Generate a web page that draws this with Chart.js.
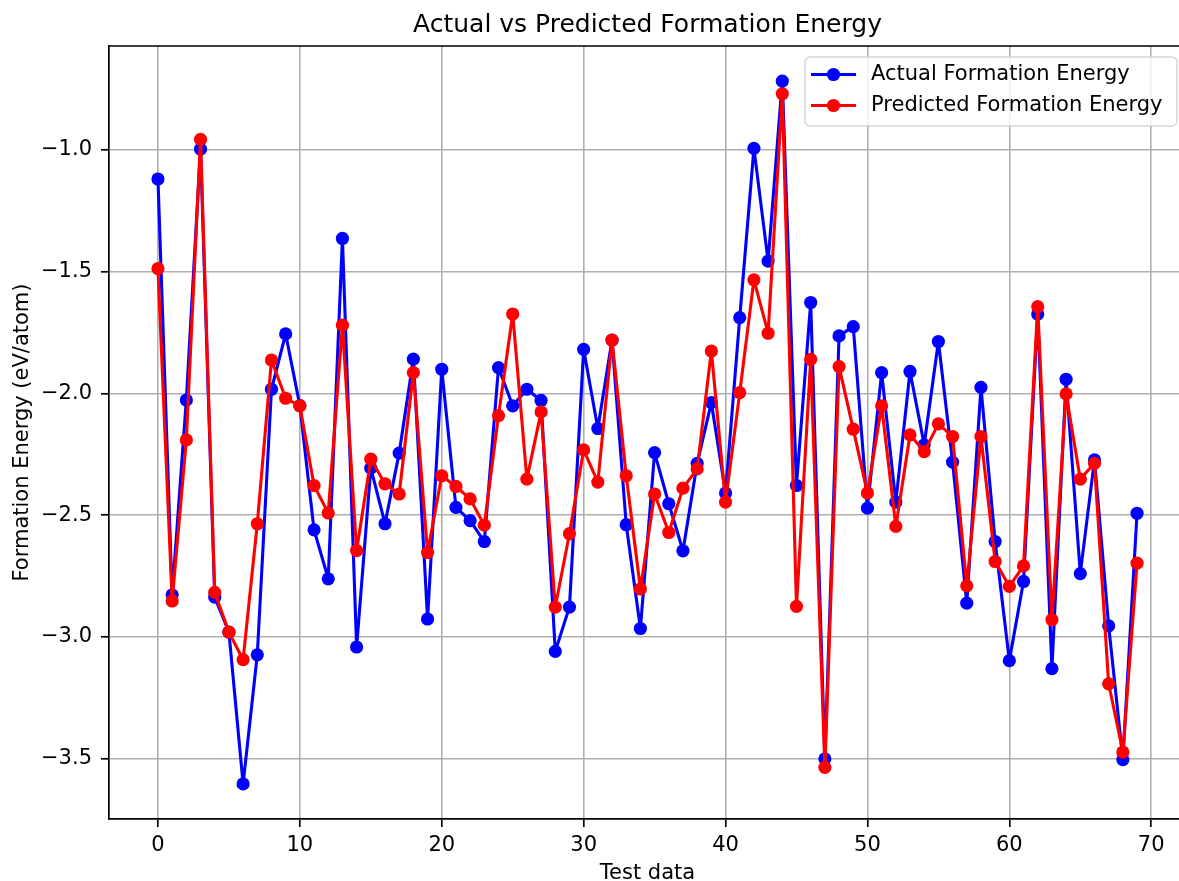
<!DOCTYPE html>
<html><head><meta charset="utf-8">
<script src="https://cdn.jsdelivr.net/npm/chart.js@4.4.1/dist/chart.umd.min.js"></script>
<style>
html,body{margin:0;padding:0;overflow:hidden;background:#fff;width:1179px;height:881px}
#wrap{position:absolute;left:0;top:0;width:1200px;height:881px}
</style>
</head><body><div id="wrap"><canvas id="c" width="1200" height="881"></canvas></div>
<script>
const testIndex = [0,1,2,3,4,5,6,7,8,9,10,11,12,13,14,15,16,17,18,19,20,21,22,23,24,25,26,27,28,29,30,31,32,33,34,35,36,37,38,39,40,41,42,43,44,45,46,47,48,49,50,51,52,53,54,55,56,57,58,59,60,61,62,63,64,65,66,67,68,69];
const actualEnergy = [-1.12,-2.827,-2.027,-0.997,-2.836,-2.98,-3.603,-3.073,-1.983,-1.756,
 -2.05,-2.56,-2.761,-1.364,-3.041,-2.307,-2.535,-2.245,-1.859,-2.926,
 -1.901,-2.468,-2.522,-2.608,-1.894,-2.051,-1.983,-2.029,-3.059,-2.877,
 -1.819,-2.144,-1.781,-2.539,-2.965,-2.243,-2.453,-2.646,-2.287,-2.038,
 -2.409,-1.689,-0.994,-1.457,-0.718,-2.378,-1.627,-3.50,-1.764,-1.726,
 -2.471,-1.915,-2.446,-1.91,-2.211,-1.787,-2.282,-2.861,-1.975,-2.608,
 -3.097,-2.772,-1.674,-3.13,-1.942,-2.74,-2.273,-2.954,-3.503,-2.492];
const predictedEnergy = [-1.488,-2.852,-2.191,-0.957,-2.817,-2.98,-3.093,-2.535,-1.863,-2.02,
 -2.051,-2.378,-2.491,-1.72,-2.645,-2.27,-2.371,-2.413,-1.915,-2.653,
 -2.338,-2.382,-2.433,-2.541,-2.091,-1.674,-2.352,-2.076,-2.877,-2.576,
 -2.232,-2.364,-1.781,-2.338,-2.803,-2.413,-2.571,-2.389,-2.31,-1.826,
 -2.446,-1.997,-1.534,-1.753,-0.770,-2.874,-1.86,-3.535,-1.89,-2.147,
 -2.409,-2.051,-2.546,-2.17,-2.239,-2.125,-2.177,-2.79,-2.177,-2.69,
 -2.792,-2.708,-1.644,-2.929,-2.002,-2.352,-2.287,-3.192,-3.472,-2.697];
const xTickValues = [0,10,20,30,40,50,60,70];
const yTickValues = [-3.5,-3.0,-2.5,-2.0,-1.5,-1.0];
const seriesNames = ['Actual Formation Energy','Predicted Formation Energy'];
const seriesColors = ['#0000ff','#ff0000'];

const FAMILY = "'DejaVu Sans', sans-serif";

const framePlugin = {
  id: 'frame',
  afterDraw(chart) {
    const {ctx, chartArea: a} = chart;
    ctx.save();
    ctx.strokeStyle = '#000';
    ctx.lineWidth = 1.7;
    ctx.beginPath();
    ctx.moveTo(a.left - 0.85, a.top);
    ctx.lineTo(a.right + 1, a.top);
    ctx.stroke();
    // legend
    const bx = 805, by = 57, bw = 372, bh = 69, r = 5;
    ctx.globalAlpha = 0.8;
    ctx.fillStyle = '#fff';
    ctx.strokeStyle = '#cccccc';
    ctx.lineWidth = 1.5;
    ctx.beginPath();
    ctx.roundRect(bx, by, bw, bh, r);
    ctx.fill();
    ctx.stroke();
    ctx.globalAlpha = 1;
    const rows = [74.5, 105.5];
    chart.data.datasets.forEach((ds, i) => {
      const y = rows[i];
      ctx.strokeStyle = ds.borderColor;
      ctx.lineWidth = 3.1;
      ctx.beginPath();
      ctx.moveTo(811, y); ctx.lineTo(856, y);
      ctx.stroke();
      ctx.fillStyle = ds.borderColor;
      ctx.beginPath();
      ctx.arc(833.5, y, 6.6, 0, Math.PI * 2);
      ctx.fill();
      ctx.fillStyle = '#000';
      ctx.font = "21px " + FAMILY;
      ctx.textAlign = 'left';
      ctx.textBaseline = 'middle';
      ctx.fillText(ds.label, 871, y);
    });
    ctx.restore();
  }
};

new Chart(document.getElementById('c'), {
  type: 'line',
  data: {
    labels: testIndex,
    datasets: [
      {label: seriesNames[0], data: actualEnergy, borderColor: seriesColors[0], backgroundColor: seriesColors[0],
       pointBackgroundColor: seriesColors[0], pointBorderWidth: 0, pointRadius: 6.6, borderWidth: 3.1, tension: 0,
       borderJoinStyle: 'round', borderCapStyle: 'round', order: 2},
      {label: seriesNames[1], data: predictedEnergy, borderColor: seriesColors[1], backgroundColor: seriesColors[1],
       pointBackgroundColor: seriesColors[1], pointBorderWidth: 0, pointRadius: 6.6, borderWidth: 3.1, tension: 0,
       borderJoinStyle: 'round', borderCapStyle: 'round', order: 1}
    ]
  },
  options: {
    responsive: false,
    animation: false,
    devicePixelRatio: 1,
    layout: {padding: {left: 0, right: 14, top: 0, bottom: 0}},
    plugins: {
      legend: {display: false},
      tooltip: {enabled: false},
      title: {display: true, fullSize: false, text: 'Actual vs Predicted Formation Energy', color: '#000',
        font: {family: FAMILY, size: 25, weight: 'normal'}, padding: {top: 10, bottom: 6}}
    },
    scales: {
      x: {
        type: 'linear', min: -3.45, max: 72.45,
        afterBuildTicks: s => { s.ticks = xTickValues.map(v => ({value: v})); },
        afterFit: s => { s.height = 62; },
        ticks: {font: {family: FAMILY, size: 21}, color: '#000', padding: 6, maxRotation: 0, callback: v => String(v)},
        grid: {color: '#b0b0b0', lineWidth: 1.6, tickColor: '#000', tickLength: 8, tickWidth: 1.7},
        border: {color: '#000', width: 1.7},
        title: {display: true, text: 'Test data', color: '#000', font: {family: FAMILY, size: 21}, padding: {top: 0, bottom: -5}}
      },
      y: {
        type: 'linear', min: -3.747, max: -0.574,
        afterBuildTicks: s => { s.ticks = yTickValues.map(v => ({value: v})); },
        afterFit: s => { s.width = 109; },
        ticks: {font: {family: FAMILY, size: 21}, color: '#000', padding: 9,
          callback: v => (v < 0 ? '\u2212' : '') + Math.abs(v).toFixed(1)},
        grid: {color: '#b0b0b0', lineWidth: 1.6, tickColor: '#000', tickLength: 8, tickWidth: 1.7},
        border: {color: '#000', width: 1.7},
        title: {display: true, text: 'Formation Energy (eV/atom)', color: '#000', font: {family: FAMILY, size: 21}, padding: {top: 10, bottom: 0}}
      }
    }
  },
  plugins: [framePlugin]
});
</script>
</body></html>
